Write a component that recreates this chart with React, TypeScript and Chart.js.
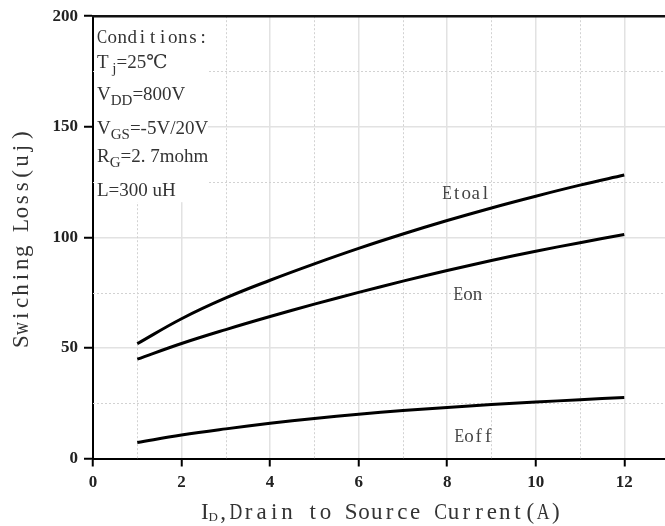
import React, { useEffect, useRef } from "react";
import { Chart, registerables } from "chart.js";

Chart.register(...registerables);

// ---- data ----
const currentA = [1, 2, 3, 4, 5, 6, 7, 8, 9, 10, 11, 12];
const etotal = [51.9, 63.2, 72.6, 80.6, 88.0, 95.0, 101.5, 107.6, 113.3, 118.6, 123.6, 128.2];
const eon = [44.9, 52.0, 58.3, 64.2, 69.8, 75.1, 80.2, 85.0, 89.5, 93.7, 97.6, 101.3];
const eoff = [7.2, 10.6, 13.4, 15.9, 18.1, 20.0, 21.7, 23.1, 24.4, 25.5, 26.6, 27.6];

const xTicks = [0, 2, 4, 6, 8, 10, 12];
const yTicks = [0, 50, 100, 150, 200];
const xMinor = [1, 3, 5, 7, 9, 11];
const yMinor = [25, 75, 125, 175];

const curveNames = ["Etoal", "Eon", "Eoff"];
const curveLabelX = [8.43, 8.47, 8.6];
const curveLabelY = [120.4, 74.7, 10.2];

const xTitleMain = "I";
const xTitleSub = "D";
const xTitleRest = ",Drain to Source Current(A)";
const yTitle = "Swiching Loss(uj)";
const conditionsTitle = "Conditions:";

type Seg = { t: string; sub?: boolean };
const conditionLines: Seg[][] = [
  [{ t: "T" }, { t: " j", sub: true }, { t: "=25℃" }],
  [{ t: "V" }, { t: "DD", sub: true }, { t: "=800V" }],
  [{ t: "V" }, { t: "GS", sub: true }, { t: "=-5V/20V" }],
  [{ t: "R" }, { t: "G", sub: true }, { t: "=2. 7mohm" }],
  [{ t: "L=300 uH" }],
];

const SERIF = '"Liberation Serif", "DejaVu Serif", "Noto Sans CJK SC", serif';

function drawPitched(
  ctx: CanvasRenderingContext2D,
  text: string,
  x: number,
  y: number,
  pitch: number,
  font: string
) {
  ctx.font = font;
  ctx.textAlign = "center";
  ctx.textBaseline = "alphabetic";
  for (let i = 0; i < text.length; i++) {
    const ch = text[i];
    if (ch === " ") continue;
    const w = ctx.measureText(ch).width;
    const s = Math.min(1, (pitch * 1.0) / w);
    ctx.save();
    ctx.translate(x + (i + 0.5) * pitch, y);
    ctx.scale(s, 1);
    ctx.fillText(ch, 0, 0);
    ctx.restore();
  }
}

function drawSegs(ctx: CanvasRenderingContext2D, segs: Seg[], x: number, y: number) {
  ctx.textAlign = "left";
  ctx.textBaseline = "alphabetic";
  let cx = x;
  for (const s of segs) {
    ctx.font = s.sub ? `15px ${SERIF}` : `19px ${SERIF}`;
    ctx.fillText(s.t, cx, s.sub ? y + 5 : y);
    cx += ctx.measureText(s.t).width;
  }
}

const decorPlugin = {
  id: "decor",
  beforeDatasetsDraw(chart: any) {
    const ctx: CanvasRenderingContext2D = chart.ctx;
    const { left, right, top, bottom } = chart.chartArea;
    const xs = chart.scales.x;
    const ys = chart.scales.y;
    ctx.save();
    // minor dotted grid
    ctx.strokeStyle = "#d2d2d2";
    ctx.lineWidth = 1;
    ctx.setLineDash([2, 2]);
    for (const v of xMinor) {
      const px = Math.round(xs.getPixelForValue(v)) + 0.5;
      ctx.beginPath();
      ctx.moveTo(px, top);
      ctx.lineTo(px, bottom);
      ctx.stroke();
    }
    for (const v of yMinor) {
      const py = Math.round(ys.getPixelForValue(v)) + 0.5;
      ctx.beginPath();
      ctx.moveTo(left, py);
      ctx.lineTo(right, py);
      ctx.stroke();
    }
    ctx.setLineDash([]);
    // white box behind conditions
    ctx.fillStyle = "#ffffff";
    ctx.fillRect(left + 1, top + 1, 114, 185);
    // conditions text
    ctx.fillStyle = "#333";
    drawPitched(ctx, conditionsTitle, left + 4, top + 27, 10.1, `19px ${SERIF}`);
    const baselines = [52, 84, 118, 146, 180];
    conditionLines.forEach((segs, i) => {
      ctx.fillStyle = "#333";
      drawSegs(ctx, segs, left + 4, top + baselines[i]);
    });
    // curve labels
    ctx.fillStyle = "#444";
    curveNames.forEach((name, i) => {
      const cx = xs.getPixelForValue(curveLabelX[i]);
      const cy = ys.getPixelForValue(curveLabelY[i]);
      const pitch = 9.6;
      drawPitched(ctx, name, cx - (name.length * pitch) / 2, cy + 6.5, pitch, `19px ${SERIF}`);
    });
    ctx.restore();
  },
  afterDraw(chart: any) {
    const ctx: CanvasRenderingContext2D = chart.ctx;
    const { left, right, top, bottom } = chart.chartArea;
    ctx.save();
    // top border
    ctx.strokeStyle = "#111";
    ctx.lineWidth = 2.5;
    ctx.beginPath();
    ctx.moveTo(left - 1, top);
    ctx.lineTo(right, top);
    ctx.stroke();
    // y title
    ctx.fillStyle = "#333";
    const pitchY = 12.9;
    const yMid = (top + bottom) / 2 + 1;
    ctx.save();
    ctx.translate(28, yMid);
    ctx.rotate(-Math.PI / 2);
    drawPitched(ctx, yTitle, -(yTitle.length * pitchY) / 2, 0, pitchY, `23px ${SERIF}`);
    ctx.restore();
    // x title
    const base = bottom + 60;
    const startX = 200;
    ctx.font = `23px ${SERIF}`;
    ctx.textAlign = "left";
    ctx.textBaseline = "alphabetic";
    ctx.fillText(xTitleMain, startX + 1, base);
    ctx.font = `13px ${SERIF}`;
    ctx.fillText(xTitleSub, startX + 8.5, base + 2);
    drawPitched(ctx, xTitleRest, startX + 16.7, base, 12.8, `23px ${SERIF}`);
    ctx.restore();
  },
};

export default function App() {
  const ref = useRef<HTMLCanvasElement | null>(null);
  useEffect(() => {
    document.body.style.margin = "0";
    if (!ref.current) return;
    const chart = new Chart(ref.current, {
      type: "line",
      data: {
        datasets: [
          { label: "Etotal", data: currentA.map((x, i) => ({ x, y: etotal[i] })) },
          { label: "Eon", data: currentA.map((x, i) => ({ x, y: eon[i] })) },
          { label: "Eoff", data: currentA.map((x, i) => ({ x, y: eoff[i] })) },
        ].map((d) => ({
          ...d,
          borderColor: "#000",
          borderWidth: 3,
          pointRadius: 0,
          fill: false,
          tension: 0.4,
        })),
      },
      options: {
        animation: false,
        responsive: false,
        devicePixelRatio: 1,
        layout: { padding: { top: 13, right: 0, left: 0, bottom: 0 } },
        plugins: { legend: { display: false }, tooltip: { enabled: false } },
        scales: {
          x: {
            type: "linear",
            min: 0,
            max: 12.92,
            afterBuildTicks: (s: any) => {
              s.ticks = xTicks.map((v) => ({ value: v }));
            },
            afterFit: (s: any) => {
              s.height = 67.5;
            },
            grid: {
              color: "#e2e2e2",
              lineWidth: 1.5,
              tickColor: "#000",
              tickLength: 8,
              tickWidth: 2,
            },
            border: { color: "#000", width: 2 },
            ticks: {
              color: "#222",
              padding: 6,
              maxRotation: 0,
              font: { family: SERIF, size: 17, weight: "bold" },
              callback: (v: any) => String(v),
            },
          },
          y: {
            type: "linear",
            min: 0,
            max: 200,
            afterBuildTicks: (s: any) => {
              s.ticks = yTicks.map((v) => ({ value: v }));
            },
            afterFit: (s: any) => {
              s.width = 93;
            },
            grid: {
              color: "#e2e2e2",
              lineWidth: 1.5,
              tickColor: "#000",
              tickLength: 9,
              tickWidth: 2,
            },
            border: { color: "#000", width: 2 },
            ticks: {
              color: "#222",
              padding: 6,
              font: { family: SERIF, size: 17, weight: "bold" },
              callback: (v: any) => String(v),
            },
          },
        },
      },
      plugins: [decorPlugin],
    } as any);
    return () => chart.destroy();
  }, []);
  return (
    <canvas
      ref={ref}
      width={665}
      height={526}
      style={{ display: "block", width: 665, height: 526 }}
    />
  );
}
